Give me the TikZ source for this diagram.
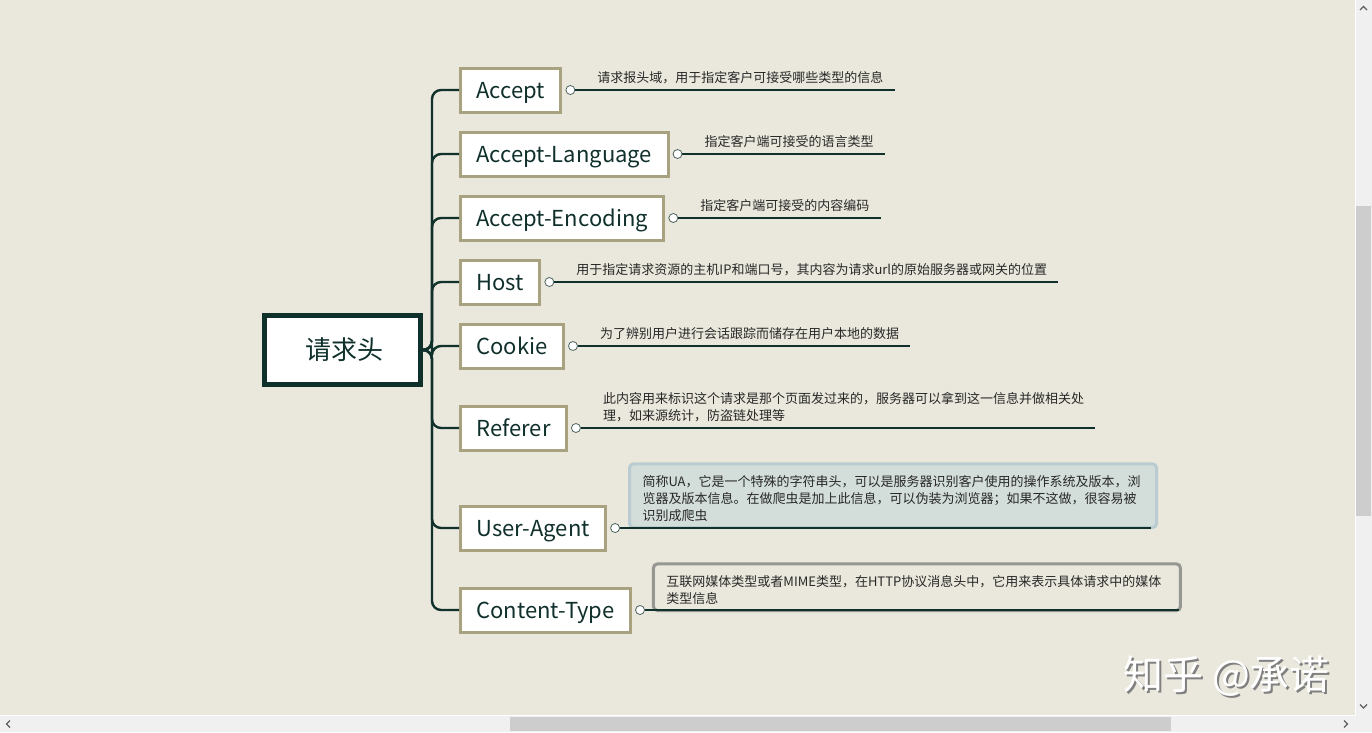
\documentclass[tikz,border=0pt]{standalone}
\usepackage{fontspec}
\setmainfont{Noto Sans CJK SC}
\usetikzlibrary{positioning,calc}
\definecolor{bgpaper}{RGB}{234,232,220}
\definecolor{darkline}{RGB}{16,48,44}
\definecolor{khaki}{RGB}{168,162,128}
\definecolor{uafill}{RGB}{211,222,218}
\definecolor{uaedge}{RGB}{186,204,210}
\definecolor{ctedge}{RGB}{150,150,146}
\definecolor{notetext}{RGB}{40,40,40}
\definecolor{bartrack}{RGB}{240,240,240}
\definecolor{barthumb}{RGB}{205,205,205}
\definecolor{bararrow}{RGB}{96,96,96}

\begin{document}
\begin{tikzpicture}[x=1pt,y=-1pt,
    root/.style={draw=darkline,line width=5pt,fill=white,minimum width=156pt,minimum height=69pt,
      font=\fontsize{26}{30}\selectfont,text=darkline},
    header/.style={draw=khaki,line width=3pt,fill=white,minimum height=44pt,inner xsep=16pt,
      text height=16pt,text depth=0pt,font=\fontsize{22}{26}\selectfont,text=darkline,anchor=west},
    knob/.style={circle,draw=darkline!75,fill=white,line width=0.8pt,inner sep=0pt,minimum size=9pt},
    note/.style={inner xsep=0pt,inner ysep=3pt,font=\fontsize{13}{17}\selectfont,text=notetext,align=left},
    notebox/.style={note,line width=3pt,rounded corners=4pt,inner xsep=13pt,inner ysep=6pt,text width=501pt},
    branch/.style={draw=darkline,line width=2.4pt,rounded corners=9pt},
    noteline/.style={draw=darkline,line width=2pt},
    chevron/.style={draw=bararrow,line width=1.2pt}]
  \useasboundingbox (0,0) rectangle (1372,732);
  % window
  \fill[white] (0,0) rectangle (1372,732);
  \fill[bgpaper] (0,0) rectangle (1355,715);
  \fill[bartrack] (1356,0) rectangle (1372,732);
  \fill[bartrack] (0,716) rectangle (1372,732);
  \fill[barthumb] (1356,206) rectangle (1371,516);
  \fill[barthumb] (510,717) rectangle (1171,731);
  \draw[chevron] (1360,10) -- (1363.5,6.5) -- (1367,10);
  \draw[chevron] (1360,704.5) -- (1363.5,708) -- (1367,704.5);
  \draw[chevron] (10,720.5) -- (6.5,724) -- (10,727.5);
  \draw[chevron] (1344,720.5) -- (1347.5,724) -- (1344,727.5);

  % centre and headers
  \node[root] (hdr) at (342.5,350) {\hspace{3pt}请求头};
  \node[header] (acc) at (459,90) {Accept};
  \node[header] (lang) at (459,154) {Accept-Language};
  \node[header] (enc) at (459,218) {Accept-Encoding};
  \node[header] (host) at (459,282) {Host};
  \node[header] (cook) at (459,346) {Cookie};
  \node[header] (ref) at (459,428) {Referer};
  \node[header] (ua) at (459,528) {User-Agent};
  \node[header] (ctype) at (459,610) {Content-Type};

  \foreach \child in {acc,lang,enc,host,cook,ref,ua,ctype}
    \draw[branch] (hdr.east) -- ++(9,0) |- (\child.west);

  % knobs
  \foreach \child in {acc,lang,enc,host,cook,ref,ua,ctype}
    \node[knob,right=3pt of \child] (\child knob) {};

  % notes
  \node[note,above right=3pt and 22pt of accknob.east] (accnote) {请求报头域，用于指定客户可接受哪些类型的信息};
  \node[note,above right=3pt and 22pt of langknob.east] (langnote) {指定客户端可接受的语言类型};
  \node[note,above right=3pt and 22pt of encknob.east] (encnote) {指定客户端可接受的内容编码};
  \node[note,above right=3pt and 22pt of hostknob.east] (hostnote) {用于指定请求资源的主机IP和端口号，其内容为请求url的原始服务器或网关的位置};
  \node[note,above right=3pt and 22pt of cookknob.east] (cooknote) {为了辨别用户进行会话跟踪而储存在用户本地的数据};
  \node[note,above right=3pt and 22pt of refknob.east] (refnote)
    {此内容用来标识这个请求是那个页面发过来的，服务器可以拿到这一信息并做相关处\\理，如来源统计，防盗链处理等};
  \foreach \child in {acc,lang,enc,host,cook,ref}
    \draw[noteline] (\child knob.east) -- ($(\child knob.east -| \child note.east)+(11,0)$);

  \node[notebox,fill=uafill,draw=uaedge,above right=-1pt and 8pt of uaknob.east] (uanote)
    {\rule{0pt}{16.5pt}简称UA，它是一个特殊的字符串头，可以是服务器识别客户使用的操作系统及版本，浏\\览器及版本信息。在做爬虫是加上此信息，可以伪装为浏览器；如果不这做，很容易被\\识别成爬虫};
  \draw[noteline] (uaknob.east) -- ($(uaknob.east -| uanote.east)+(-7,0)$);

  \node[notebox,fill=bgpaper,draw=ctedge,above right=-2pt and 7pt of ctypeknob.east] (ctypenote)
    {\rule{0pt}{16.5pt}互联网媒体类型或者MIME类型，在HTTP协议消息头中，它用来表示具体请求中的媒体\\类型信息};
  \draw[noteline] (ctypeknob.east) -- ($(ctypeknob.east -| ctypenote.east)+(-3,0)$);

  % watermark
  \node[font=\fontsize{40}{44}\selectfont,text=black!50] (markshade) at (1228.5,678.5) {知乎 @承诺};
  \node[font=\fontsize{40}{44}\selectfont,text=white] (mark) at (1226.5,676) {知乎 @承诺};
\end{tikzpicture}
\end{document}
